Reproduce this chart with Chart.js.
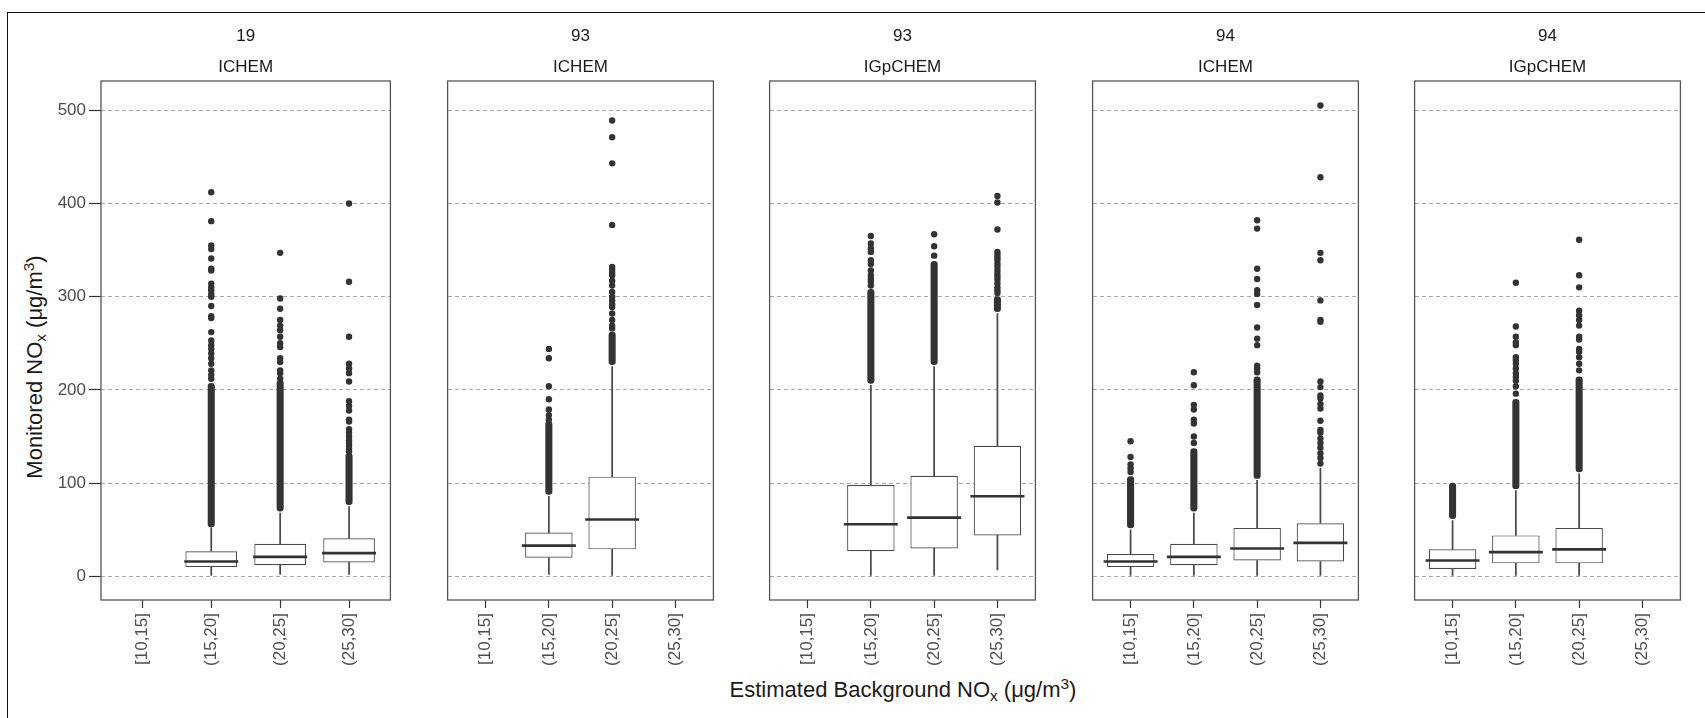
<!DOCTYPE html>
<html>
<head>
<meta charset="utf-8">
<script src="https://cdn.jsdelivr.net/npm/chart.js@4.4.1/dist/chart.umd.min.js"></script>
<style>
  html, body { margin: 0; padding: 0; background: #fff; overflow: hidden; }
  body { width: 1705px; height: 718px; position: relative; font-family: "Liberation Sans", Arial, sans-serif; }
  .frame { position: absolute; left: 7px; top: 12px; width: 1760px; height: 760px; border-left: 1.5px solid #111; border-top: 1.5px solid #111; }
  canvas { position: absolute; top: 0; }
  .xtitle { position: absolute; left: 101px; width: 1604px; top: 677px; height: 26px; line-height: 26px; text-align: center; font-size: 22px; color: #1a1a1a; }
  .ytitle { position: absolute; left: -165px; width: 400px; top: 354px; height: 26px; line-height: 26px; text-align: center; font-size: 22px; color: #1a1a1a; transform: rotate(-90deg); }
  sub { font-size: 0.7em; vertical-align: -0.25em; line-height: 0; }
  sup { font-size: 0.7em; vertical-align: 0.55em; line-height: 0; }
</style>
</head>
<body>
<div class="frame"></div>
<div class="ytitle">Monitored NO<sub>x</sub> (μg/m<sup>3</sup>)</div>
<div class="xtitle">Estimated Background NO<sub>x</sub> (μg/m<sup>3</sup>)</div>
<script>
const categories = ['[10,15]', '(15,20]', '(20,25]', '(25,30]'];
const panelIds = ['19', '93', '93', '94', '94'];
const panelTypes = ['ICHEM', 'ICHEM', 'IGpCHEM', 'ICHEM', 'IGpCHEM'];
const yTicks = [0, 100, 200, 300, 400, 500];

// box statistics, one row per panel, one entry per category (null = no data)
const whiskerLow = [
  [null, 1, 2, 2],
  [null, 2, 1, null],
  [null, 1, 1, 7],
  [1, 1, 1, 1],
  [1, 1, 1, null]
];
const q1 = [
  [null, 10, 12, 15],
  [null, 20, 29, null],
  [null, 27, 30, 44],
  [10, 12, 17, 16],
  [8, 14, 14, null]
];
const median = [
  [null, 16, 21, 25],
  [null, 33, 61, null],
  [null, 56, 63, 86],
  [16, 21, 30, 36],
  [17, 26, 29, null]
];
const q3 = [
  [null, 27, 35, 41],
  [null, 47, 107, null],
  [null, 98, 108, 140],
  [24, 35, 52, 57],
  [29, 44, 52, null]
];
const whiskerHigh = [
  [null, 52, 68, 75],
  [null, 86, 225, null],
  [null, 205, 225, 282],
  [50, 68, 103, 116],
  [60, 92, 110, null]
];
// runs of outliers so dense they merge into a solid column
const denseLow = [
  [null, 53, 70, 77],
  [null, 88, 227, null],
  [null, 207, 227, 284],
  [52, 70, 105, null],
  [62, 94, 112, null]
];
const denseHigh = [
  [null, 207, 210, 132],
  [null, 166, 262, null],
  [null, 308, 338, 300],
  [107, 137, 214, null],
  [100, 190, 214, null]
];
// separate outlier points
const outliers = [
  [[], [212, 216, 221, 228, 234, 239, 244, 248, 253, 262, 277, 279, 290, 300, 303, 307, 310, 314, 328, 330, 341, 351, 355, 381, 412],
       [212, 218, 221, 230, 234, 246, 250, 257, 264, 269, 275, 287, 298, 347],
       [134, 137, 140, 143, 146, 150, 154, 158, 166, 168, 178, 183, 188, 209, 218, 223, 228, 257, 316, 400]],
  [[], [168, 173, 179, 190, 204, 234, 244],
       [266, 269, 275, 282, 289, 292, 296, 300, 305, 312, 317, 323, 326, 329, 332, 377, 443, 471, 489],
       []],
  [[], [312, 316, 319, 323, 328, 335, 339, 348, 352, 357, 365],
       [344, 354, 367],
       [304, 307, 310, 314, 318, 321, 324, 328, 332, 335, 339, 342, 345, 348, 372, 401, 408]],
  [[112, 116, 120, 128, 145],
   [143, 150, 164, 168, 179, 184, 205, 219],
   [219, 223, 226, 248, 255, 267, 291, 303, 307, 319, 330, 373, 382],
   [121, 127, 132, 138, 143, 148, 154, 157, 167, 180, 185, 191, 194, 203, 209, 273, 275, 296, 339, 347, 428, 505]],
  [[], [196, 204, 210, 214, 218, 223, 228, 232, 235, 248, 251, 257, 268, 315],
       [221, 228, 235, 241, 244, 254, 257, 269, 275, 280, 285, 310, 323, 361],
       []]
];

const panelLeft = [101, 424, 746, 1069, 1391];
const panelWidth = 313;
const family = "'Liberation Sans', Arial, sans-serif";
Chart.defaults.font.family = family;

const panelFrame = {
  id: 'panelFrame',
  afterDraw(chart, args, opts) {
    const ctx = chart.ctx;
    const a = chart.chartArea;
    ctx.save();
    ctx.strokeStyle = '#555';
    ctx.lineWidth = 1.3;
    ctx.strokeRect(a.left, a.top, a.right - a.left, a.bottom - a.top);
    ctx.font = '17px ' + family;
    ctx.fillStyle = '#1a1a1a';
    ctx.textAlign = 'center';
    ctx.textBaseline = 'middle';
    const cx = (a.left + a.right) / 2;
    ctx.fillText(opts.id, cx, a.top - 45);
    ctx.fillText(opts.type, cx, a.top - 14);
    ctx.restore();
  }
};

function makePanel(k) {
  const first = k === 0;
  const padL = first ? 101 : 6;
  const w = padL + panelWidth + 6;
  const canvas = document.createElement('canvas');
  canvas.width = w;
  canvas.height = 718;
  canvas.style.width = w + 'px';
  canvas.style.height = '718px';
  canvas.style.left = (panelLeft[k] - padL) + 'px';
  document.body.appendChild(canvas);

  const boxes = [], whiskers = [], dense = [], medians = [], points = [];
  categories.forEach(function(c, i) {
    if (q1[k][i] === null) return;
    const x = i + 1;
    boxes.push({x: x, y: [q1[k][i], q3[k][i]]});
    whiskers.push({x: x, y: [whiskerLow[k][i], q1[k][i]]});
    whiskers.push({x: x, y: [q3[k][i], whiskerHigh[k][i]]});
    if (denseLow[k][i] !== null) dense.push({x: x, y: [denseLow[k][i], denseHigh[k][i]]});
    medians.push({x: x, y: median[k][i]});
    outliers[k][i].forEach(function(v) { points.push({x: x, y: v}); });
  });

  new Chart(canvas.getContext('2d'), {
    type: 'bar',
    data: {
      datasets: [
        { type: 'scatter', data: medians, pointStyle: 'line', pointRadius: 27, borderWidth: 2.6, borderColor: '#333', order: 0 },
        { type: 'bar', data: boxes, backgroundColor: '#fff', borderColor: '#4a4a4a', borderWidth: 1.2, borderSkipped: false,
          grouped: false, barPercentage: 0.75, categoryPercentage: 1, order: 1 },
        { type: 'bar', data: whiskers, backgroundColor: '#4a4a4a', borderWidth: 0, grouped: false,
          barPercentage: 1, categoryPercentage: 1, maxBarThickness: 1.1, order: 2 },
        { type: 'bar', data: dense, backgroundColor: '#333', borderWidth: 0, borderRadius: 3.2, borderSkipped: false,
          grouped: false, barPercentage: 1, categoryPercentage: 1, maxBarThickness: 6.4, order: 3 },
        { type: 'scatter', data: points, pointRadius: 3.2, backgroundColor: '#333', borderWidth: 0, order: 3 }
      ]
    },
    options: {
      responsive: false,
      animation: false,
      devicePixelRatio: 1,
      events: [],
      layout: { padding: { left: first ? 0 : 6, right: 6, top: 81, bottom: 0 } },
      plugins: {
        legend: { display: false },
        tooltip: { enabled: false },
        panelFrame: { id: panelIds[k], type: panelTypes[k] }
      },
      scales: {
        x: {
          type: 'linear', min: 0.4, max: 4.6, offset: false,
          afterBuildTicks: function(s) { s.ticks = categories.map(function(c, i) { return {value: i + 1}; }); },
          afterFit: function(s) { s.height = 118; },
          ticks: {
            autoSkip: false, minRotation: 90, maxRotation: 90, padding: 5, color: '#4d4d4d',
            font: { size: 17 },
            callback: function(v) { return categories[v - 1]; }
          },
          grid: { display: true, drawOnChartArea: false, drawTicks: true, tickLength: 8, tickColor: '#333', tickWidth: 1.2, offset: false },
          border: { display: false }
        },
        y: {
          min: -25.3, max: 531.3,
          afterBuildTicks: function(s) { s.ticks = yTicks.map(function(v) { return {value: v}; }); },
          afterFit: function(s) { s.width = first ? 101 : 0; },
          ticks: { display: first, padding: 3, color: '#4d4d4d', font: { size: 17 } },
          grid: { color: '#a8a8a8', lineWidth: 1, drawTicks: first, tickLength: 12, tickColor: '#333', tickWidth: 1.2 },
          border: { display: false, dash: [4, 3] }
        }
      }
    },
    plugins: [panelFrame]
  });
}

document.addEventListener('DOMContentLoaded', function() {
  for (let k = 0; k < panelIds.length; k++) makePanel(k);
});
</script>
</body>
</html>
